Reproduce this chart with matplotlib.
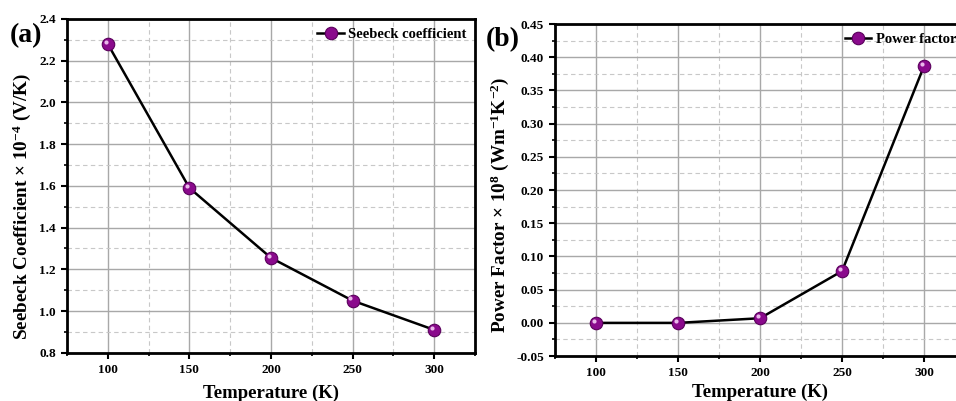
import matplotlib
matplotlib.use("Agg")
import matplotlib.pyplot as plt
from matplotlib.ticker import MultipleLocator, FormatStrFormatter
from matplotlib.transforms import offset_copy

plt.rcParams['font.family'] = ['Liberation Serif', 'DejaVu Serif']
plt.rcParams['font.weight'] = 'bold'
plt.rcParams['mathtext.fontset'] = 'custom'
plt.rcParams['mathtext.rm'] = 'Liberation Serif:bold'
plt.rcParams['mathtext.it'] = 'Liberation Serif:bold'
plt.rcParams['mathtext.bf'] = 'Liberation Serif:bold'

temperature = [100, 150, 200, 250, 300]
seebeck = [2.28, 1.59, 1.255, 1.05, 0.91]
power_factor = [0.0, 0.0, 0.007, 0.078, 0.387]

fig = plt.figure(figsize=(9.56, 4.01), dpi=100)
ax1 = fig.add_axes([0.070, 0.120, 0.427, 0.833])
ax2 = fig.add_axes([0.5805, 0.112, 0.429, 0.828])


def style_axes(ax, ymajor, yminor, yfmt):
    ax.set_xlim(75, 325)
    ax.xaxis.set_major_locator(MultipleLocator(50))
    ax.xaxis.set_minor_locator(MultipleLocator(25))
    ax.yaxis.set_major_locator(MultipleLocator(ymajor))
    ax.yaxis.set_minor_locator(MultipleLocator(yminor))
    ax.yaxis.set_major_formatter(FormatStrFormatter(yfmt))
    ax.grid(which='major', color='#a8a8a8', linewidth=1.0, linestyle='-')
    ax.grid(which='minor', color='#c8c8c8', linewidth=0.8, linestyle=(0, (4, 3)))
    ax.set_axisbelow(True)
    for s in ax.spines.values():
        s.set_linewidth(2.0)
    ax.tick_params(which='major', direction='out', length=4.5, width=1.5, labelsize=9.5)
    ax.tick_params(which='minor', direction='out', length=2.5, width=1.2)


def draw_series(ax, y, label):
    ax.plot(temperature, y, color='black', linewidth=1.8, marker='o',
            markersize=9, markerfacecolor='#8a0a8c', markeredgecolor='#5a005c',
            markeredgewidth=0.8, label=label, zorder=3)
    # small glossy highlight on each sphere
    shine = offset_copy(ax.transData, fig=fig, x=-1.6, y=1.6, units='points')
    ax.plot(temperature, y, linestyle='none', marker='o', markersize=3,
            markerfacecolor='#e9b8ea', markeredgewidth=0, transform=shine, zorder=4)


draw_series(ax1, seebeck, 'Seebeck coefficient')
style_axes(ax1, 0.2, 0.1, '%.1f')
ax1.set_ylim(0.8, 2.4)
ax1.set_xlabel('Temperature (K)', fontsize=13.5, fontweight='bold', labelpad=6)
ax1.set_ylabel('Seebeck Coefficient × 10$^{-4}$ (V/K)', fontsize=13.8,
               fontweight='bold')
ax1.yaxis.set_label_coords(-0.083, 0.437)
ax1.legend(loc='upper right', frameon=False, handlelength=1.8,
           handletextpad=0.3, borderaxespad=0.2,
           prop={'family': 'Liberation Serif', 'weight': 'bold', 'size': 10.5})

draw_series(ax2, power_factor, 'Power factor')
style_axes(ax2, 0.05, 0.025, '%.2f')
ax2.set_ylim(-0.05, 0.45)
ax2.set_xlabel('Temperature (K)', fontsize=13.5, fontweight='bold', labelpad=3)
ax2.set_ylabel('Power Factor × 10$^{8}$ (Wm$^{-1}$K$^{-2}$)', fontsize=13.8,
               fontweight='bold')
ax2.yaxis.set_label_coords(-0.107, 0.455)
ax2.legend(loc='upper right', frameon=False, handlelength=1.8,
           handletextpad=0.3, borderaxespad=0.2,
           prop={'family': 'Liberation Serif', 'weight': 'bold', 'size': 10.5})

fig.text(0.010, 0.895, '(a)', fontsize=20, fontweight='bold')
fig.text(0.508, 0.885, '(b)', fontsize=20, fontweight='bold')

fig.savefig('out.png', dpi=100)
